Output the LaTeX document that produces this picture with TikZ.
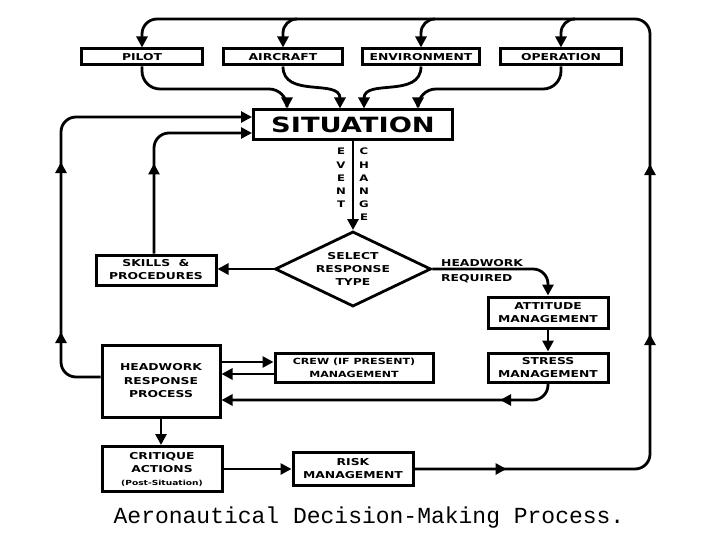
\documentclass[tikz,border=0pt]{standalone}
\usepackage{fontspec}
\usepackage{graphicx}
\usetikzlibrary{arrows.meta,shapes.geometric,decorations.markings,calc}
\newfontfamily\boxfont{DejaVu Sans}[FakeStretch=1.3]
\newfontfamily\capfont{Liberation Mono}
\begin{document}
\begin{tikzpicture}[x=1pt,y=-1pt,
  box/.style={draw, line width=3pt, inner sep=0pt, align=center,
    font=\boxfont\bfseries\fontsize{9.5}{13}\selectfont},
  lbl/.style={inner sep=0pt, align=center, font=\boxfont\bfseries\fontsize{9.5}{13}\selectfont},
  tip/.style={-{Triangle[length=11pt,width=11pt]}},
  conn/.style={line width=2.8pt, tip},
  midarrow/.style={postaction={decorate}, decoration={markings,
    mark=at position #1 with {\arrow{Triangle[length=11pt,width=11pt]}}}},
]
\useasboundingbox (0,0) rectangle (720,540);

% boxes
\node[box, minimum width=121pt, minimum height=16pt] (pilot) at (142,57) {PILOT};
\node[box, minimum width=119pt, minimum height=16pt] (aircraft) at (283,57) {AIRCRAFT};
\node[box, minimum width=117pt, minimum height=16pt] (environment) at (421,57) {ENVIRONMENT};
\node[box, minimum width=121pt, minimum height=16pt] (operation) at (561,57) {OPERATION};
\node[box, minimum width=199pt, minimum height=30pt, font=\boxfont\bfseries\fontsize{21}{24}\selectfont] (situation) at (353,125) {SITUATION};
\node[box, minimum width=120pt, minimum height=30pt] (skills) at (156,270) {SKILLS\ \ \&\\PROCEDURES};
\node[box, diamond, line width=2.8pt, minimum width=156pt, minimum height=58pt, inner sep=-8pt] (select) at (353,269) {SELECT\\RESPONSE\\TYPE};
\node[box, minimum width=120pt, minimum height=31pt] (attitude) at (548,312.5) {ATTITUDE\\MANAGEMENT};
\node[box, minimum width=120pt, minimum height=29pt] (stress) at (548,367.5) {STRESS\\MANAGEMENT};
\node[box, minimum width=118pt, minimum height=72pt, font=\boxfont\bfseries\fontsize{9.5}{13.5}\selectfont] (headwork) at (161,381) {HEADWORK\\RESPONSE\\PROCESS};
\node[box, minimum width=158pt, minimum height=29pt, font=\boxfont\bfseries\fontsize{8.5}{13}\selectfont] (crew) at (354,367.5) {CREW (IF PRESENT)\\MANAGEMENT};
\node[box, minimum width=120pt, minimum height=45pt] (critique) at (162,469) {CRITIQUE\\ACTIONS\\{\fontsize{7}{9}\selectfont(Post-Situation)}};
\node[box, minimum width=120pt, minimum height=33pt] (risk) at (353,469) {RISK\\MANAGEMENT};

% labels
\node[lbl, font=\boxfont\bfseries\fontsize{9}{13.2}\selectfont] (event) at (341,178) {E\\V\\E\\N\\T};
\node[lbl, font=\boxfont\bfseries\fontsize{9}{13.2}\selectfont] (change) at (364,184.5) {C\\H\\A\\N\\G\\E};
\node[lbl, anchor=base west] (hw) at (441,266) {HEADWORK};
\node[lbl, anchor=base west] (req) at (441,281) {REQUIRED};
\node[inner sep=0pt, anchor=base, font=\capfont\fontsize{23}{23}\selectfont] (caption) at (369,523) {Aeronautical Decision-Making Process.};

% big outer loop: risk -> right side -> top -> pilot
\draw[conn, rounded corners=15pt,
  postaction={decorate}, decoration={markings,
    mark=at position 92pt with {\arrow{Triangle[length=11pt,width=11pt]}},
    mark=at position 364pt with {\arrow{Triangle[length=11pt,width=11pt]}},
    mark=at position 534pt with {\arrow{Triangle[length=11pt,width=11pt]}}}]
  (risk.east) -- (650,469) -- (650,19) -- (pilot.north |- 0,19) -- (pilot.north);
\draw[conn, rounded corners=14pt] ($(aircraft.north |- 0,19)+(14,0)$) -- (aircraft.north |- 0,19) -- (aircraft.north);
\draw[conn, rounded corners=14pt] ($(environment.north |- 0,19)+(14,0)$) -- (environment.north |- 0,19) -- (environment.north);
\draw[conn, rounded corners=14pt] ($(operation.north |- 0,19)+(14,0)$) -- (operation.north |- 0,19) -- (operation.north);

% into situation
\draw[conn, rounded corners=18pt] (pilot.south) -- (pilot.south |- 0,89) -- (287,89) -- (situation.north -| 287,0);
\draw[conn] (aircraft.south) .. controls +(0,32) and +(0,-30) .. (situation.north -| 340,0);
\draw[conn] (environment.south) .. controls +(0,32) and +(0,-30) .. (situation.north -| 364,0);
\draw[conn, rounded corners=18pt] (operation.south) -- (operation.south |- 0,89) -- (418,89) -- (situation.north -| 418,0);

% left loops
\draw[conn, rounded corners=15pt,
  postaction={decorate}, decoration={markings,
    mark=at position 78pt with {\arrow{Triangle[length=11pt,width=11pt]}},
    mark=at position 248pt with {\arrow{Triangle[length=11pt,width=11pt]}}}]
  (headwork.west |- 0,377) -- (61,377) -- (61,117) -- (situation.west |- 0,117);
\draw[conn, rounded corners=15pt, midarrow=90pt]
  (skills.north -| 154,0) -- (154,133) -- (situation.west |- 0,133);

% main flow
\draw[conn] (situation.south) -- (select.north);
\draw[conn] (select.west) -- (skills.east |- select.west);
\draw[conn, rounded corners=15pt] (select.east) -- (attitude.north |- select.east) -- (attitude.north);
\draw[conn] (attitude.south) -- (stress.north);
\draw[conn, rounded corners=15pt, midarrow=58pt] (stress.south) -- (stress.south |- 0,400) -- (headwork.east |- 0,400);
\draw[conn] (headwork.east |- 0,362) -- (crew.west |- 0,362);
\draw[conn] (crew.west |- 0,374) -- (headwork.east |- 0,374);
\draw[conn] (headwork.south) -- (headwork.south |- critique.north);
\draw[conn] (critique.east) -- (risk.west);
\end{tikzpicture}
\end{document}
